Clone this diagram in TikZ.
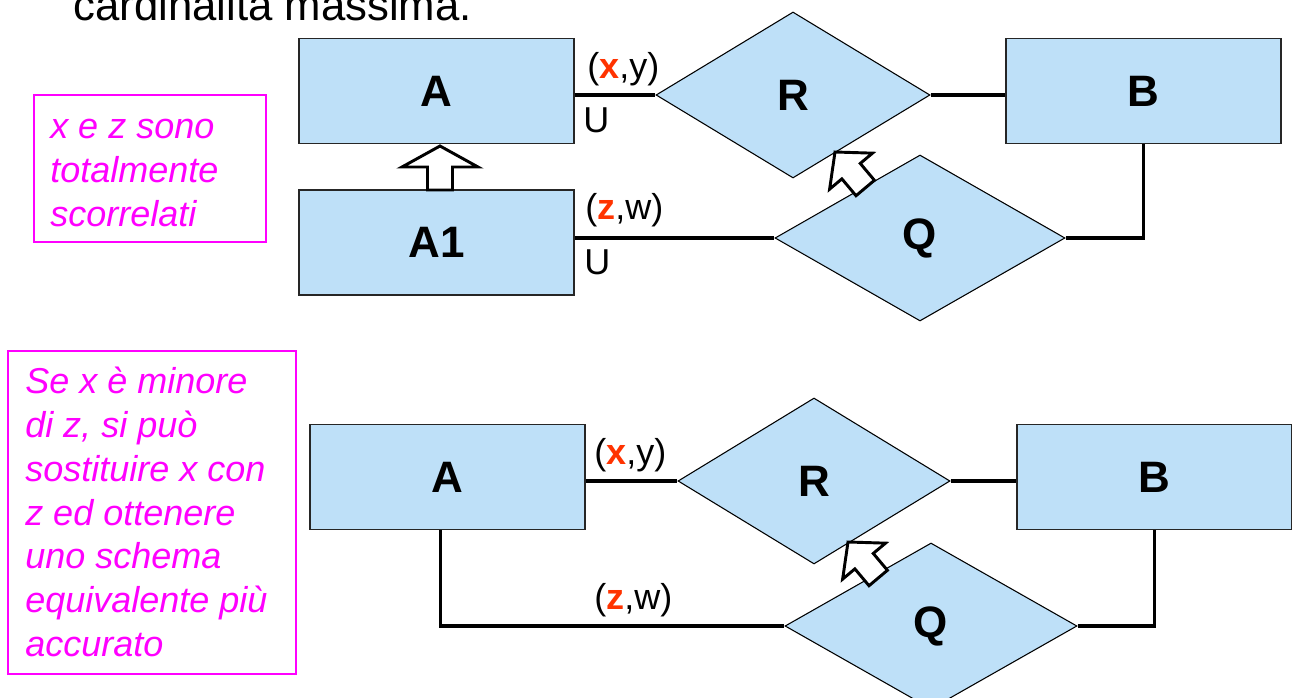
\documentclass[tikz,border=0pt]{standalone}
\usepackage{fontspec}
\setmainfont{Liberation Sans}
\usetikzlibrary{shapes.geometric,calc}
\definecolor{entblue}{RGB}{190,224,248}
\definecolor{cardred}{RGB}{255,51,0}
\definecolor{notemag}{RGB}{255,0,255}
\begin{document}
\begin{tikzpicture}[x=0.75pt,y=-0.75pt,
  entity/.style={rectangle,draw=black!85,line width=0.8pt,fill=entblue,
    minimum width=206.25pt,minimum height=78.75pt,inner sep=0pt,
    font=\fontsize{33}{40}\selectfont\bfseries},
  relship/.style={diamond,draw=black,line width=0.8pt,fill=entblue,inner sep=0pt,
    minimum height=124.5pt,font=\fontsize{33}{40}\selectfont\bfseries},
  conn/.style={line width=2.3pt,black},
  card/.style={anchor=base west,inner sep=0pt,font=\fontsize{27}{32}\selectfont},
  note/.style={anchor=base west,inner sep=0pt,text=notemag,
    font=\fontsize{27}{32}\selectfont\itshape},
  notebox/.style={draw=notemag,line width=0.8pt},
  isaarrow/.style={draw=black,fill=white,line width=2.2pt,line join=miter},
]
\clip (0,0) rectangle (1292,698);
\fill[white] (0,0) rectangle (1292,698);

% title (cut off at the top edge, as in the reference)
\node[anchor=base west,inner sep=0pt,font=\fontsize{32.8}{38}\selectfont] (title) at (73,21) {cardinalità massima.};

% ---------- top diagram ----------
\node[entity] (A) at (436.5,91) {A};
\node[entity] (A1) at (436.5,242.5) {A1};
\node[entity] (B) at (1143.5,91) {B};
\node[relship,minimum width=205.5pt] (R) at (793,95) {R};
\node[relship,minimum width=217.5pt] (Q) at (920,238) {Q};

\draw[conn] (A.east |- R.west) -- (R.west);
\draw[conn] (R.east) -- (R.east -| B.west);
\draw[conn] (A1.east |- Q.west) -- (Q.west);
\draw[conn] (Q.east) -| (B.south);

\node[card] (c1) at (587,79) {(\textcolor{cardred}{\textbf{x}},y)};
\node[card] (u1) at (583,133) {U};
\node[card] (c2) at (585,220) {(\textcolor{cardred}{\textbf{z}},w)};
\node[card] (u2) at (584,275) {U};

\coordinate (isa1) at (440,146);
\draw[isaarrow,shift={(isa1)}] (0,0) -- (38,21) -- (12.5,21) -- (12.5,44) -- (-12.5,44) -- (-12.5,21) -- (-38,21) -- cycle;
\coordinate (sub1) at (835,152);
\draw[isaarrow,shift={(sub1)},rotate=40] (0,0) -- (28,25) -- (12,25) -- (12,47) -- (-12,47) -- (-12,25) -- (-28,25) -- cycle;

\draw[notebox] (34,95) rectangle (266,242);
\node[note] (n1) at (50,139) {x e z sono};
\node[note] (n2) at (50,183) {totalmente};
\node[note] (n3) at (50,227) {scorrelati};

% ---------- bottom diagram ----------
\node[entity] (A2) at (447.5,477) {A};
\node[entity] (B2) at (1154.5,477) {B};
\node[relship,minimum width=204pt] (R2) at (814,481) {R};
\node[relship,minimum width=219pt] (Q2) at (931,626) {Q};

\draw[conn] (A2.east |- R2.west) -- (R2.west);
\draw[conn] (R2.east) -- (R2.east -| B2.west);
\draw[conn] ([xshift=-5.6pt]A2.south) |- (Q2.west);
\draw[conn] (Q2.east) -| (B2.south);

\node[card] (c3) at (594,464) {(\textcolor{cardred}{\textbf{x}},y)};
\node[card] (c4) at (594,609) {(\textcolor{cardred}{\textbf{z}},w)};

\coordinate (sub2) at (848,542);
\draw[isaarrow,shift={(sub2)},rotate=40] (0,0) -- (28,25) -- (12,25) -- (12,47) -- (-12,47) -- (-12,25) -- (-28,25) -- cycle;

\draw[notebox] (8,351) rectangle (296,674);
\node[note] (m1) at (25,394) {Se x è minore};
\node[note] (m2) at (25,437.7) {di z, si può};
\node[note] (m3) at (25,481.4) {sostituire x con};
\node[note] (m4) at (25,525.1) {z ed ottenere};
\node[note] (m5) at (25,568.8) {uno schema};
\node[note] (m6) at (25,612.5) {equivalente più};
\node[note] (m7) at (25,656.2) {accurato};
\end{tikzpicture}
\end{document}
